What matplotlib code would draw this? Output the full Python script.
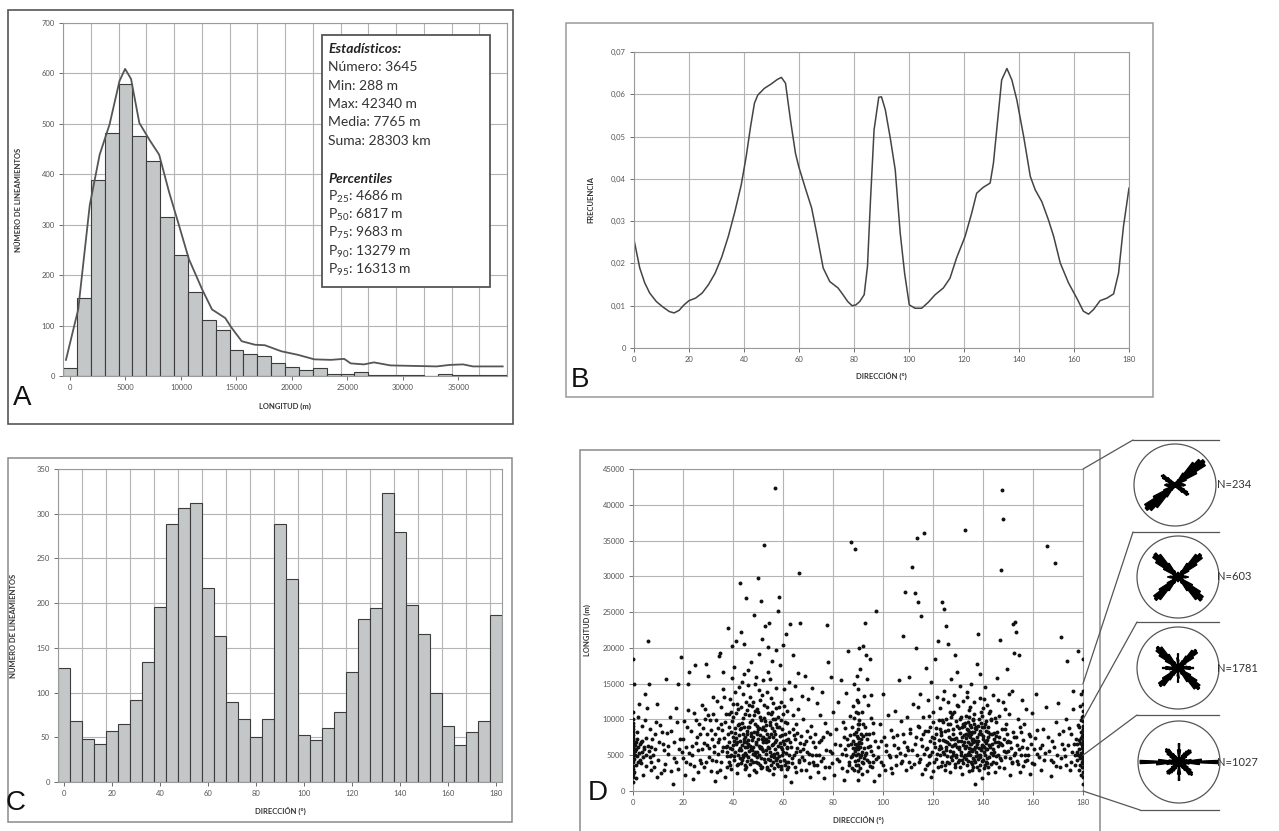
import numpy as np
import matplotlib
matplotlib.use("Agg")
import matplotlib.pyplot as plt
from matplotlib.patches import Rectangle, Ellipse, ConnectionPatch
from matplotlib.lines import Line2D
from matplotlib.ticker import FuncFormatter

plt.rcParams['font.family'] = ['Lato', 'DejaVu Sans']
plt.rcParams['mathtext.fontset'] = 'custom'
plt.rcParams['mathtext.rm'] = 'Lato'
plt.rcParams['mathtext.default'] = 'regular'

# ---- panel A: length histogram (bins of 1250 m) + smoothed curve
a_counts = [15, 155, 389, 481, 580, 475, 427, 315, 239, 167, 111, 91, 52, 43, 39, 25,
            18, 12, 16, 4, 3, 7, 2, 2, 2, 2, 0, 3, 2, 1, 1, 1]
a_bin = 1250
a_curve_x = [-357, 744, 1786, 2679, 3571, 4464, 4970, 5506, 6250, 7143, 8036, 8929, 9821,
             10714, 11905, 12798, 13988, 14583, 15476, 16667, 17560, 19048, 20536, 22024,
             23512, 24702, 25298, 26488, 27381, 28869, 30952, 33036, 34226, 35417, 36310, 38988]
a_curve_y = [32, 132, 339, 439, 499, 585, 609, 589, 502, 469, 439, 365, 299, 232, 172, 132,
             115, 95, 69, 62, 61, 49, 42, 33, 32, 34, 25, 23, 27, 21, 20, 19, 22, 23, 19, 19]
stats_lines = ["Número: 3645", "Min: 288 m", "Max: 42340 m", "Media: 7765 m", "Suma: 28303 km"]
pct_names = ["25", "50", "75", "90", "95"]
pct_values = [4686, 6817, 9683, 13279, 16313]

# ---- panel B: direction frequency curve
b_dir = [0, 1, 2.1, 3.9, 5.7, 8.1, 10.5, 12.9, 14.6, 16.4, 18.2, 20, 22.4, 24.8, 27.1, 29.5,
         31.9, 34.3, 36.7, 39, 40.8, 42.4, 43.8, 45, 47.4, 49.8, 52.1, 53.6, 55.1, 56.9, 58.7,
         59.9, 62.3, 64.6, 66.4, 68.8, 71.2, 74.2, 76, 77.7, 79.3, 80.7, 82.1, 83.7, 84.9,
         86, 87.3, 89, 90, 91.4, 93.2, 95, 96.8, 98.4, 100.1, 102.2, 104.6, 107, 109.5,
         112.5, 114.9, 117.3, 120.4, 122.8, 124.6, 127, 129.5, 130.7, 131.9, 133.7, 135.6,
         137.4, 139.2, 141.7, 144.1, 145.9, 148.3, 150.7, 152.6, 155, 158, 161, 163.4,
         165.3, 167.1, 169.5, 172, 174.4, 176.2, 178, 180]
b_freq = [0.0256, 0.0224, 0.0189, 0.0154, 0.013, 0.011, 0.0097, 0.0086, 0.0083, 0.0089,
          0.0102, 0.0112, 0.0118, 0.013, 0.015, 0.0177, 0.0215, 0.0264, 0.0323, 0.0386,
          0.0453, 0.0524, 0.0579, 0.0598, 0.0614, 0.0624, 0.0635, 0.064, 0.0626, 0.0539,
          0.0461, 0.0429, 0.0378, 0.0331, 0.0272, 0.0189, 0.0157, 0.0142, 0.0126, 0.011,
          0.01, 0.0102, 0.011, 0.0126, 0.0193, 0.035, 0.0516, 0.0593, 0.0594, 0.0563,
          0.0496, 0.0421, 0.0272, 0.0177, 0.0102, 0.0094, 0.0094, 0.0108, 0.0126, 0.0142,
          0.0165, 0.0213, 0.0264, 0.0319, 0.0366, 0.038, 0.039, 0.0437, 0.0516, 0.0634,
          0.0661, 0.0634, 0.0587, 0.05, 0.0406, 0.0374, 0.0346, 0.0303, 0.0264, 0.0201,
          0.0154, 0.0118, 0.0087, 0.008, 0.0091, 0.0112, 0.0118, 0.0128, 0.0177, 0.0288, 0.0378]

# ---- panel C: direction histogram (5 degree bins, centred 0..180)
c_counts = [127, 68, 48, 43, 57, 65, 92, 134, 196, 289, 306, 312, 217, 163, 89, 71, 50, 71,
            289, 227, 53, 47, 60, 78, 123, 182, 195, 323, 280, 198, 165, 100, 63, 41, 56, 68, 187]
c_bin = 5

# ---- panel D: direction vs length (direction deg, length km), read by eye
d_points = [
    # 0-20
    (0, 1.2), (0, 2.0), (0, 3.1), (0, 4.0), (0, 4.6), (0, 5.3), (0, 5.9), (0, 6.4), (0, 7.1),
    (0, 7.8), (0, 8.6), (0, 9.5), (0, 11.0), (0, 18.4), (0.5, 2.6), (0.7, 5.6), (1.0, 6.9),
    (1.2, 3.7), (1.4, 8.2), (1.6, 4.9), (1.8, 10.3), (2.1, 6.1), (2.3, 12.2), (0.3, 14.9),
    (1.1, 1.8), (2.8, 4.3), (3.2, 6.8), (3.5, 9.1), (3.9, 2.2), (4.2, 5.8), (4.6, 13.5),
    (5.0, 3.5), (5.3, 7.4), (5.7, 11.6), (6.1, 20.9), (6.3, 15.0), (6.6, 4.8), (7.0, 6.2),
    (7.3, 2.9), (4.8, 9.9), (6.9, 8.7), (7.8, 5.1), (8.3, 3.3), (8.9, 7.9), (9.4, 12.1),
    (10.0, 4.4), (10.6, 9.2), (11.2, 2.5), (11.8, 6.6), (12.2, 5.7), (9.7, 1.9), (12.8, 3.8),
    (13.2, 15.7), (13.6, 8.1), (14.1, 5.2), (14.7, 10.4), (15.3, 2.8), (16.0, 1.0), (16.5, 6.9),
    (17.1, 4.1), (17.6, 9.6), (18.0, 15.0), (17.9, 3.1), (18.6, 7.2), (19.2, 18.7), (19.6, 5.5),
    (0, 2.4), (0, 3.5), (0, 4.3), (0, 5.0), (0, 5.6), (0, 6.1), (0, 6.7), (0, 7.4), (0, 8.2),
    (0, 9.1), (0, 10.1), (0.4, 4.5), (0.6, 6.4), (0.9, 5.1), (1.3, 5.9), (1.5, 7.3), (1.9, 4.1),
    (2.2, 5.3), (2.6, 6.6), (3.0, 3.9), (3.4, 5.5), (3.7, 7.0), (4.0, 4.8), (4.4, 6.1),
    (5.2, 5.0), (5.9, 6.3), (6.5, 5.6), (7.1, 4.0), (7.5, 7.2), (8.6, 5.9), (9.1, 9.6),
    (10.3, 6.8), (11.5, 8.3), (12.5, 3.0), (13.9, 6.3), (15.0, 8.4), (16.2, 4.6), (17.3, 11.6),
    (18.3, 5.8),
    # 20-40
    (20.3, 9.8), (20.8, 2.3), (21.3, 6.2), (21.9, 14.9), (22.3, 16.6), (22.1, 11.3), (19.9, 4.6),
    (22.7, 3.8), (23.2, 8.4), (23.7, 5.0), (24.2, 10.9), (24.8, 17.6), (25.2, 6.7), (25.8, 2.6),
    (26.3, 9.3), (26.9, 4.4), (27.4, 12.0), (25.5, 7.6), (23.9, 1.7), (27.6, 5.9), (28.0, 8.8),
    (28.5, 3.3), (28.9, 11.4), (29.4, 6.4), (29.8, 16.1), (30.3, 4.7), (30.7, 9.9), (31.2, 2.8),
    (31.6, 7.3), (32.0, 13.1), (32.4, 5.4), (32.8, 1.4), (30.0, 10.6), (29.0, 17.7), (32.6, 8.0),
    (33.1, 4.2), (33.5, 12.6), (33.9, 6.8), (34.3, 18.9), (34.7, 3.0), (35.1, 9.4), (35.5, 5.6),
    (35.9, 14.2), (36.3, 7.4), (36.7, 1.9), (37.1, 10.7), (37.5, 4.9), (36.0, 16.6), (34.0, 8.8),
    (37.3, 6.1), (35.2, 11.8), (33.7, 2.6), (36.5, 13.2), (34.9, 19.3),
    (20.0, 7.3), (21.0, 4.0), (21.6, 8.9), (22.5, 5.3), (23.5, 6.3), (24.5, 3.5), (25.0, 9.9),
    (26.0, 5.7), (26.6, 7.9), (27.2, 3.9), (28.2, 6.7), (28.7, 10.1), (29.2, 4.1), (29.6, 7.9),
    (30.5, 6.0), (31.0, 8.5), (31.4, 4.4), (31.8, 10.8), (32.2, 6.3), (33.3, 9.9), (34.1, 5.2),
    (34.5, 7.3), (35.3, 4.0), (35.7, 8.5), (36.1, 6.2), (36.9, 9.6), (37.4, 3.4),
    # 40-50
    (37.6, 6.3), (37.9, 22.8), (38.3, 8.9), (38.6, 3.6), (38.9, 12.9), (39.2, 5.1), (39.5, 15.8),
    (39.8, 7.5), (40.1, 10.3), (40.4, 4.4), (40.7, 13.9), (41.0, 6.6), (41.3, 21.0), (41.6, 2.5),
    (41.9, 9.2), (42.2, 14.6), (42.5, 5.7), (40.2, 17.3), (39.1, 11.1), (38.4, 6.9), (40.9, 8.1),
    (41.5, 12.2), (42.0, 3.8), (39.7, 20.2), (40.5, 7.0), (38.8, 4.9), (41.2, 10.9), (42.3, 7.8),
    (42.7, 6.0), (42.9, 29.0), (43.2, 22.2), (43.4, 9.5), (43.7, 4.3), (43.9, 13.6), (44.2, 7.2),
    (44.4, 16.4), (44.7, 5.3), (44.9, 10.8), (45.1, 27.0), (45.3, 3.4), (45.6, 8.4), (45.8, 14.8),
    (46.0, 6.5), (46.3, 12.0), (46.5, 2.2), (46.8, 9.7), (47.0, 18.0), (47.3, 5.8), (43.0, 11.7),
    (44.0, 8.0), (45.0, 6.9), (46.1, 4.7), (47.2, 7.7), (43.5, 15.2), (44.6, 3.1), (45.7, 11.3),
    (46.7, 13.1), (44.3, 20.5), (45.4, 7.9), (43.8, 5.0), (46.4, 9.0), (42.8, 8.6), (47.4, 11.9),
    (44.8, 6.1), (45.9, 16.9), (43.3, 3.9),
    (37.7, 5.5), (38.0, 7.9), (38.2, 10.7), (38.5, 4.1), (38.7, 6.0), (39.0, 8.3), (39.3, 3.1),
    (39.4, 9.8), (39.6, 5.9), (39.9, 12.1), (40.0, 6.4), (40.3, 4.9), (40.6, 8.8), (40.8, 5.4),
    (41.1, 7.4), (41.4, 3.6), (41.7, 6.9), (41.8, 11.4), (42.1, 5.1), (42.4, 9.4), (42.6, 4.6),
    (42.9, 7.0), (43.1, 5.7), (43.3, 8.8), (43.6, 6.4), (43.9, 10.2), (44.1, 4.8), (44.3, 6.9),
    (44.5, 9.0), (44.7, 3.7), (44.9, 7.6), (45.1, 5.1), (45.3, 12.4), (45.5, 6.2), (45.7, 4.2),
    (45.9, 8.9), (46.1, 7.1), (46.3, 5.6), (46.5, 10.6), (46.7, 3.8), (46.9, 6.3), (47.1, 8.1),
    (47.3, 4.4), (47.5, 9.9),
    # 50-60
    (47.6, 7.1), (47.9, 12.4), (48.1, 4.0), (48.4, 24.6), (48.6, 9.3), (48.9, 5.5), (49.1, 16.0),
    (49.3, 2.7), (49.6, 8.2), (49.8, 29.7), (50.0, 11.0), (50.3, 6.3), (50.5, 14.1), (50.8, 3.6),
    (51.0, 26.5), (51.2, 9.9), (51.5, 5.9), (51.7, 13.4), (52.0, 7.6), (52.2, 34.4), (52.4, 4.5),
    (48.2, 10.6), (49.0, 6.8), (49.9, 8.7), (50.7, 12.7), (51.4, 7.3), (52.3, 10.2), (48.7, 14.9),
    (49.5, 4.8), (50.2, 19.2), (51.1, 3.2), (51.9, 9.0), (48.0, 5.2), (49.4, 11.5), (50.9, 6.0),
    (52.1, 15.5), (49.7, 7.9), (51.6, 21.2), (52.6, 8.5), (52.9, 23.1), (53.1, 5.7), (53.4, 11.8),
    (53.6, 3.3), (53.9, 16.7), (54.1, 7.0), (54.4, 23.5), (54.6, 9.6), (54.9, 4.3), (55.1, 13.0),
    (55.4, 6.4), (55.6, 18.2), (55.9, 2.4), (56.1, 10.1), (56.4, 5.2), (56.6, 42.3), (56.9, 8.0),
    (57.1, 14.4), (57.4, 3.8), (53.0, 9.2), (54.0, 6.1), (55.0, 10.7), (56.0, 7.5), (57.0, 11.6),
    (53.5, 13.8), (54.5, 2.9), (55.5, 8.8), (56.5, 4.8), (57.3, 19.7), (53.8, 20.1), (55.8, 12.3),
    (54.7, 15.6), (56.8, 6.9), (53.3, 7.3), (55.2, 4.9), (57.2, 9.4),
    (47.7, 5.7), (47.9, 7.5), (48.1, 6.1), (48.3, 3.0), (48.5, 8.2), (48.7, 5.1), (48.9, 11.2),
    (49.1, 6.6), (49.3, 4.1), (49.5, 9.1), (49.7, 5.5), (49.9, 7.3), (50.1, 3.9), (50.3, 8.8),
    (50.5, 5.0), (50.7, 10.4), (50.9, 7.8), (51.1, 6.1), (51.3, 4.6), (51.5, 8.6), (51.7, 3.4),
    (51.9, 6.8), (52.1, 5.6), (52.3, 12.0), (52.5, 7.3), (52.7, 4.0), (52.9, 9.8), (53.1, 6.9),
    (53.3, 5.2), (53.5, 8.0), (53.7, 3.1), (53.9, 10.9), (54.1, 4.5), (54.3, 7.6), (54.5, 6.0),
    (54.7, 9.2), (54.9, 5.4), (55.1, 3.6), (55.3, 7.9), (55.5, 11.1), (55.7, 5.1), (55.9, 6.6),
    (56.1, 4.0), (56.3, 8.4), (56.5, 3.2), (56.7, 5.9), (56.9, 10.0), (57.1, 4.4), (57.3, 7.1),
    (57.5, 5.3),
    # 60-80
    (57.6, 4.6), (57.9, 25.2), (58.1, 10.4), (58.3, 27.1), (58.6, 6.7), (58.8, 17.6), (59.1, 3.5),
    (59.3, 12.5), (59.6, 7.8), (59.8, 20.4), (60.1, 5.4), (60.3, 14.3), (60.6, 2.1), (60.8, 9.7),
    (61.1, 22.0), (61.4, 6.2), (61.7, 11.2), (62.0, 4.0), (62.3, 8.3), (58.5, 8.9), (59.5, 5.9),
    (60.5, 11.9), (61.5, 3.1), (62.2, 15.2), (59.0, 9.9), (61.0, 7.1), (62.6, 23.4), (62.9, 6.9),
    (63.2, 12.8), (63.5, 3.9), (63.8, 19.0), (64.1, 8.6), (64.4, 5.0), (64.7, 14.7), (65.0, 2.6),
    (65.3, 9.3), (65.6, 6.0), (65.9, 11.4), (66.2, 30.5), (66.5, 4.4), (66.8, 23.5), (67.1, 7.7),
    (67.4, 13.3), (63.0, 1.2), (64.0, 10.6), (65.8, 16.5), (66.9, 5.6), (64.9, 7.2), (67.7, 4.8),
    (68.1, 10.0), (68.5, 6.5), (68.9, 16.1), (69.3, 3.0), (69.7, 8.4), (70.1, 12.9), (70.5, 5.2),
    (70.9, 2.0), (71.3, 9.1), (71.7, 14.4), (72.1, 6.8), (72.4, 3.6), (72.8, 8.0), (73.2, 5.1),
    (73.6, 12.3), (74.0, 2.7), (74.4, 6.9), (74.8, 10.6), (75.2, 4.2), (75.6, 13.8), (76.0, 7.5),
    (76.4, 1.8), (76.8, 9.5), (77.2, 5.7),
    (57.7, 8.9), (57.9, 3.5), (58.1, 6.3), (58.3, 4.9), (58.5, 11.7), (58.7, 7.7), (58.9, 4.2),
    (59.1, 6.1), (59.3, 3.1), (59.5, 8.6), (59.7, 5.0), (59.9, 10.7), (60.1, 7.0), (60.3, 4.3),
    (60.5, 6.5), (60.7, 3.7), (60.9, 8.0), (61.1, 5.3), (61.3, 4.1), (61.5, 9.5), (61.7, 6.0),
    (61.9, 3.4), (62.1, 7.3), (62.4, 5.1), (63.1, 6.1), (63.6, 4.6), (64.2, 7.8), (64.6, 3.3),
    (65.2, 5.5), (65.7, 8.1), (66.3, 4.0), (66.7, 6.7), (67.3, 3.0), (67.9, 5.9), (68.4, 4.3),
    (69.0, 7.0), (69.5, 5.5), (70.3, 3.9), (70.7, 7.6), (71.5, 5.0), (72.0, 4.0), (72.6, 6.1),
    (73.4, 3.6), (74.2, 5.0), (75.0, 7.1), (75.8, 4.6), (76.6, 3.3), (77.4, 8.3),
    # 80-100
    (77.7, 23.2), (78.0, 18.0), (78.4, 3.4), (78.8, 7.9), (79.2, 16.0), (79.6, 5.3), (80.0, 11.0),
    (80.5, 2.3), (81.0, 8.7), (81.5, 4.5), (82.0, 12.4), (82.6, 6.4), (83.0, 15.5), (83.4, 3.2),
    (83.8, 9.6), (84.2, 1.5), (84.6, 5.8), (85.0, 13.7), (85.4, 7.3), (85.8, 19.5), (86.2, 4.1),
    (86.6, 10.5), (87.0, 34.8), (87.3, 6.6), (85.6, 2.8), (84.9, 8.8), (87.6, 4.9), (87.8, 11.9),
    (88.0, 7.0), (88.2, 2.9), (88.4, 15.0), (88.6, 5.6), (88.8, 33.8), (89.0, 8.3), (89.2, 3.7),
    (89.4, 12.7), (89.6, 6.2), (89.8, 9.4), (90.0, 1.6), (90.0, 4.3), (90.0, 5.8), (90.0, 7.4),
    (90.0, 10.9), (90.0, 14.2), (90.2, 20.0), (90.4, 6.8), (90.6, 3.2), (90.8, 17.0), (91.0, 8.0),
    (91.2, 5.1), (91.4, 11.1), (91.6, 2.4), (91.8, 20.3), (92.0, 7.7), (92.2, 4.6), (92.4, 13.3),
    (89.1, 6.0), (90.5, 9.9), (91.5, 4.0), (88.5, 10.2), (89.7, 16.1), (91.1, 6.7), (92.6, 23.5),
    (92.8, 9.0), (93.0, 5.3), (93.2, 19.0), (93.4, 2.8), (93.7, 7.2), (94.0, 12.0), (94.3, 4.1),
    (94.6, 18.5), (94.9, 6.3), (95.2, 10.2), (95.5, 3.3), (95.8, 8.1), (96.1, 5.0), (96.4, 1.4),
    (96.7, 7.0), (97.0, 25.2), (97.3, 4.5), (93.5, 15.6), (95.0, 13.4), (96.0, 9.5), (94.5, 7.9),
    (78.6, 5.6), (79.4, 3.9), (80.8, 6.6), (82.3, 4.2), (83.6, 5.2), (84.4, 7.6), (85.2, 5.0),
    (85.9, 6.4), (86.4, 3.6), (86.8, 7.8), (87.1, 4.8), (87.5, 9.0), (87.7, 3.2), (87.9, 6.0),
    (88.1, 5.2), (88.3, 8.0), (88.7, 4.2), (88.9, 6.6), (89.0, 11.0), (89.3, 5.0), (89.5, 7.7),
    (89.9, 3.6), (90.0, 2.8), (90.0, 6.5), (90.0, 8.6), (90.0, 12.5), (90.1, 5.2), (90.3, 9.4),
    (90.7, 4.7), (90.9, 6.2), (91.3, 7.2), (91.7, 5.5), (91.9, 9.3), (92.1, 3.9), (92.3, 6.0),
    (92.7, 5.0), (93.1, 7.9), (93.6, 4.4), (94.1, 6.1), (94.7, 3.5), (95.3, 5.6), (95.9, 4.0),
    # 100-120
    (97.8, 6.1), (98.3, 2.2), (98.8, 9.3), (99.3, 4.0), (99.8, 13.5), (100.3, 7.5), (100.8, 3.0),
    (101.3, 5.6), (101.8, 10.6), (102.7, 4.7), (103.2, 8.5), (103.7, 2.5), (104.2, 6.4),
    (104.7, 11.2), (105.2, 3.7), (105.7, 7.8), (106.2, 15.5), (106.7, 5.3), (107.2, 9.8),
    (107.7, 4.2), (108.1, 21.6), (108.5, 6.9), (108.9, 27.8), (109.3, 2.9), (109.7, 10.3),
    (110.1, 5.7), (110.5, 16.0), (110.9, 8.1), (111.3, 3.4), (111.7, 31.3), (112.1, 12.2),
    (112.6, 27.7), (112.9, 6.5), (113.2, 20.0), (113.5, 35.4), (113.8, 9.1), (114.1, 26.4),
    (114.4, 4.0), (114.7, 13.6), (115.0, 7.3), (115.3, 24.5), (115.6, 2.4), (115.9, 10.4),
    (116.2, 36.0), (116.5, 5.2), (116.8, 8.4), (117.1, 17.2), (117.4, 3.6), (114.0, 11.8),
    (117.7, 6.0), (118.0, 12.7), (118.3, 3.9), (118.6, 9.0), (118.9, 5.1), (119.2, 15.3),
    (119.5, 7.6), (119.8, 2.8), (120.1, 11.0), (120.4, 6.7), (120.7, 18.4), (121.0, 4.5),
    (121.3, 8.8), (121.6, 13.1), (121.9, 21.0), (122.2, 5.8), (122.4, 9.9), (119.0, 1.9),
    (120.5, 7.4), (118.5, 10.5),
    (98.0, 4.8), (99.0, 7.0), (100.0, 3.6), (101.0, 6.4), (102.2, 5.0), (103.0, 3.2), (104.0, 7.5),
    (105.0, 4.9), (106.0, 6.0), (107.0, 3.9), (108.0, 7.9), (108.7, 5.0), (109.5, 6.2),
    (110.3, 4.0), (110.7, 8.6), (111.5, 5.7), (112.3, 3.8), (113.0, 7.6), (113.6, 5.0),
    (114.2, 9.0), (114.8, 4.5), (115.5, 6.3), (116.0, 7.9), (116.6, 3.1), (117.2, 5.8),
    (117.8, 8.4), (118.4, 4.9), (118.8, 7.0), (119.4, 5.5), (119.9, 9.7), (120.2, 4.0),
    (120.8, 6.1), (121.1, 8.0), (121.5, 5.2), (121.8, 3.4), (122.3, 7.1),
    # 120-135
    (122.6, 6.3), (122.8, 11.6), (123.0, 3.5), (123.3, 8.3), (123.6, 26.4), (123.9, 5.4),
    (124.2, 14.0), (124.4, 25.5), (124.7, 7.0), (125.0, 10.1), (125.2, 23.0), (125.5, 4.1),
    (125.8, 12.4), (126.0, 20.5), (126.3, 6.6), (126.6, 9.3), (126.9, 2.6), (127.2, 15.6),
    (123.1, 7.8), (124.0, 9.6), (125.1, 5.7), (126.1, 8.5), (127.0, 4.8), (123.8, 12.9),
    (124.9, 3.0), (126.8, 11.1), (125.7, 6.9), (127.3, 7.3), (127.6, 10.8), (127.9, 5.0),
    (128.2, 13.4), (128.5, 7.2), (128.8, 3.3), (129.1, 9.8), (129.4, 16.6), (129.7, 6.1),
    (130.0, 11.9), (130.3, 4.4), (130.6, 8.1), (130.9, 14.7), (131.2, 5.5), (131.5, 2.4),
    (131.8, 9.4), (132.1, 12.6), (132.4, 6.8), (128.0, 8.6), (129.0, 4.7), (130.1, 7.0),
    (131.0, 10.3), (132.0, 3.9), (128.6, 19.0), (130.5, 5.9), (131.6, 7.6), (129.5, 12.0),
    (132.3, 9.1), (128.3, 6.4),
    (122.7, 5.0), (122.9, 8.7), (123.2, 6.0), (123.4, 4.1), (123.7, 9.9), (124.1, 7.1),
    (124.3, 5.2), (124.6, 3.6), (124.8, 8.4), (125.3, 6.1), (125.6, 4.9), (125.9, 9.4),
    (126.2, 7.6), (126.4, 3.9), (126.7, 5.6), (127.1, 10.4), (127.4, 6.3), (127.7, 4.3),
    (127.8, 8.0), (128.1, 5.4), (128.4, 11.0), (128.7, 6.6), (128.9, 3.8), (129.2, 7.4),
    (129.3, 5.1), (129.6, 9.1), (129.9, 4.1), (130.2, 8.8), (130.4, 6.2), (130.7, 3.4),
    (130.8, 10.1), (131.1, 7.0), (131.3, 5.0), (131.4, 8.9), (131.7, 4.4), (131.9, 6.4),
    (132.2, 7.8), (132.5, 4.7),
    # 135-145
    (132.6, 6.0), (132.8, 36.5), (133.0, 10.5), (133.2, 4.5), (133.4, 8.6), (133.6, 13.2),
    (133.8, 5.2), (134.0, 7.8), (134.2, 2.8), (134.4, 11.3), (134.6, 6.5), (134.8, 9.2),
    (135.0, 4.0), (135.2, 15.0), (135.4, 7.1), (135.6, 5.6), (135.8, 10.0), (136.0, 3.4),
    (136.2, 8.3), (136.4, 12.5), (136.6, 6.2), (136.8, 1.0), (137.0, 9.0), (137.2, 4.9),
    (137.4, 17.8), (133.1, 7.4), (133.9, 9.7), (134.5, 5.5), (135.3, 8.0), (135.9, 6.9),
    (136.5, 4.3), (137.3, 7.0), (133.5, 3.6), (134.9, 11.8), (136.1, 9.9), (135.1, 5.9),
    (134.1, 6.8), (136.9, 8.8), (133.7, 13.9), (135.7, 3.0), (137.1, 6.1), (134.3, 8.2),
    (136.3, 10.7), (132.9, 5.0), (137.6, 7.6), (137.8, 22.0), (138.0, 5.0), (138.2, 10.1),
    (138.4, 3.0), (138.6, 8.4), (138.8, 13.0), (139.0, 6.0), (139.2, 9.5), (139.4, 4.2),
    (139.6, 1.8), (139.8, 7.2), (140.0, 11.6), (140.2, 5.4), (140.4, 8.9), (140.6, 3.6),
    (140.8, 14.5), (141.0, 6.7), (141.2, 9.8), (141.4, 4.6), (141.6, 12.0), (141.8, 7.5),
    (142.0, 2.5), (142.2, 10.9), (138.1, 7.0), (139.1, 11.0), (140.1, 6.3), (141.1, 5.8),
    (142.1, 8.2), (138.7, 4.7), (139.7, 9.0), (140.7, 7.0), (141.7, 3.9), (138.9, 16.4),
    (140.3, 12.8),
    (132.7, 9.5), (133.0, 6.3), (133.3, 7.9), (133.6, 5.0), (133.8, 8.5), (134.0, 4.2),
    (134.2, 10.4), (134.4, 6.0), (134.6, 7.5), (134.8, 5.1), (135.0, 9.0), (135.2, 6.6),
    (135.4, 3.8), (135.6, 8.2), (135.8, 4.6), (136.0, 7.3), (136.2, 5.8), (136.4, 9.3),
    (136.6, 4.0), (136.8, 7.0), (137.0, 5.4), (137.2, 8.6), (137.4, 3.3), (137.6, 6.5),
    (137.8, 4.5), (138.0, 9.1), (138.2, 6.0), (138.4, 7.9), (138.6, 5.1), (138.8, 3.7),
    (139.0, 8.0), (139.2, 5.7), (139.4, 10.5), (139.6, 6.4), (139.8, 4.4), (140.0, 7.7),
    (140.2, 3.2), (140.4, 6.1), (140.6, 9.4), (140.8, 5.0), (141.0, 8.4), (141.2, 4.1),
    (141.4, 7.1), (141.6, 5.8), (141.8, 3.3), (142.0, 9.0), (142.2, 6.4), (142.4, 4.8),
    # 145-165
    (142.6, 6.2), (142.9, 11.2), (143.2, 3.8), (143.5, 8.0), (143.8, 5.1), (144.1, 13.4),
    (144.4, 7.3), (144.7, 2.6), (145.0, 9.6), (145.3, 4.9), (145.6, 15.8), (145.9, 6.9),
    (146.2, 10.5), (146.5, 3.4), (146.8, 21.1), (147.1, 30.9), (147.4, 8.6), (147.7, 42.0),
    (148.0, 38.0), (148.3, 5.6), (143.0, 9.9), (144.0, 5.9), (145.1, 7.7), (146.0, 12.7),
    (147.0, 4.3), (144.6, 10.2), (146.6, 6.7), (147.6, 6.4), (148.0, 12.5), (148.4, 3.2),
    (148.8, 8.7), (149.2, 5.4), (149.6, 17.0), (150.0, 7.0), (150.4, 10.8), (150.8, 2.2),
    (151.2, 6.0), (151.6, 14.0), (152.0, 23.3), (152.3, 19.3), (150.6, 4.6), (149.0, 9.4),
    (151.8, 8.2), (148.6, 11.4), (152.4, 5.0), (150.2, 13.5), (151.4, 3.9), (149.4, 6.8),
    (152.7, 23.6), (153.0, 22.2), (153.3, 7.6), (153.6, 4.2), (153.9, 10.0), (154.2, 19.0),
    (154.5, 5.8), (154.8, 2.7), (155.1, 8.3), (155.4, 12.7), (155.7, 6.2), (156.0, 3.5),
    (156.4, 9.4), (156.8, 5.0), (157.2, 11.4), (157.7, 4.4), (158.2, 8.0), (158.7, 2.4),
    (159.2, 6.6), (159.7, 10.9), (160.2, 3.8), (160.7, 7.4), (161.2, 13.6), (161.7, 5.2),
    (162.7, 6.0), (163.3, 3.0), (163.9, 8.7), (164.5, 4.4), (165.1, 11.8), (165.7, 34.2),
    (166.3, 5.6), (167.0, 2.1),
    (142.7, 7.9), (143.0, 5.3), (143.3, 10.0), (143.6, 6.6), (143.9, 4.0), (144.2, 8.1),
    (144.5, 5.4), (144.8, 6.9), (145.2, 3.9), (145.5, 8.3), (145.8, 5.1), (146.1, 6.3),
    (146.4, 7.5), (146.9, 4.6), (147.3, 6.6), (148.2, 7.3), (148.9, 4.7), (149.5, 8.0),
    (150.1, 5.6), (150.9, 6.9), (151.5, 4.1), (152.2, 7.6), (152.9, 5.3), (153.5, 6.4),
    (154.0, 3.8), (154.6, 8.9), (155.3, 5.0), (155.9, 7.1), (156.6, 4.2), (157.4, 6.0),
    (158.0, 5.1), (158.9, 7.7), (159.5, 3.9), (160.5, 5.8), (161.5, 8.5), (162.4, 4.7),
    (163.6, 6.4), (164.8, 5.3), (166.0, 7.6),
    # 165-180
    (167.6, 7.0), (168.1, 4.0), (168.6, 31.8), (169.1, 9.6), (169.6, 5.1), (170.1, 12.3),
    (170.6, 3.3), (171.1, 21.5), (171.6, 6.6), (172.1, 8.4), (172.6, 4.9), (173.1, 10.1),
    (173.6, 18.1), (174.1, 6.4), (174.6, 2.9), (175.1, 8.0), (175.6, 5.5), (176.1, 11.5),
    (176.6, 3.7), (177.1, 7.3), (175.9, 14.0), (177.6, 5.4), (177.8, 9.2), (178.0, 19.6),
    (178.2, 3.0), (178.4, 7.1), (178.6, 11.9), (178.8, 4.6), (179.0, 8.3), (179.2, 2.2),
    (179.4, 6.0), (179.6, 10.4), (179.8, 5.0), (180, 1.0), (180, 2.7), (180, 3.9), (180, 4.8),
    (180, 5.5), (180, 6.3), (180, 7.0), (180, 8.0), (180, 9.1), (180, 10.5), (180, 12.2),
    (180, 18.4), (179.5, 4.1), (178.9, 6.7), (179.1, 13.5), (179.7, 7.7), (178.3, 5.9),
    (167.3, 4.4), (168.3, 6.1), (169.3, 3.5), (170.3, 7.9), (171.3, 4.6), (172.3, 5.8),
    (173.3, 3.7), (174.3, 8.8), (175.3, 4.1), (176.3, 6.6), (176.9, 5.0), (177.4, 4.4),
    (177.7, 6.6), (178.1, 5.0), (178.5, 8.9), (178.7, 3.6), (179.1, 5.3), (179.3, 7.4),
    (179.5, 6.4), (179.7, 3.3), (179.9, 8.7), (180, 2.0), (180, 3.4), (180, 4.3), (180, 5.1),
    (180, 5.9), (180, 6.7), (180, 7.5), (180, 8.5), (180, 9.8), (180, 11.2), (180, 14.0),
    (179.8, 4.7), (179.0, 9.9), (178.6, 4.9),
]

# ---- rose diagrams per length class (relative petal length, 5 deg bins 0..175)
rose_n = [234, 603, 1781, 1027]
rose_bounds = [45000, 15000, 10000, 5000, 0]
rose_vals = [
    [0.06, 0.05, 0.05, 0.06, 0.08, 0.10, 0.15, 0.35, 0.70, 0.85, 0.92, 0.88,
     0.60, 0.30, 0.12, 0.12, 0.18, 0.22, 0.25, 0.22, 0.15, 0.12, 0.15, 0.25,
     0.35, 0.40, 0.38, 0.25, 0.15, 0.10, 0.07, 0.06, 0.05, 0.05, 0.05, 0.06],
    [0.12, 0.06, 0.05, 0.06, 0.08, 0.10, 0.18, 0.40, 0.70, 0.78, 0.75, 0.55,
     0.30, 0.12, 0.08, 0.10, 0.15, 0.20, 0.25, 0.20, 0.12, 0.08, 0.08, 0.15,
     0.40, 0.65, 0.78, 0.80, 0.70, 0.40, 0.18, 0.08, 0.06, 0.05, 0.06, 0.10],
    [0.35, 0.20, 0.07, 0.07, 0.08, 0.12, 0.20, 0.35, 0.55, 0.62, 0.60, 0.45,
     0.22, 0.12, 0.10, 0.15, 0.22, 0.30, 0.38, 0.30, 0.15, 0.10, 0.10, 0.18,
     0.35, 0.55, 0.68, 0.72, 0.65, 0.40, 0.18, 0.10, 0.07, 0.07, 0.10, 0.25],
    [0.45, 0.30, 0.10, 0.10, 0.12, 0.18, 0.25, 0.32, 0.38, 0.40, 0.38, 0.22,
     0.15, 0.12, 0.15, 0.20, 0.30, 0.55, 0.95, 0.50, 0.25, 0.18, 0.15, 0.18,
     0.25, 0.35, 0.42, 0.45, 0.40, 0.25, 0.18, 0.12, 0.10, 0.10, 0.12, 0.30],
]

W, H = 1279, 831
fig = plt.figure(figsize=(W / 100, H / 100), dpi=100)


def px_rect(x0, y0, x1, y1):
    return [x0 / W, 1 - y1 / H, (x1 - x0) / W, (y1 - y0) / H]


def fx(x):
    return x / W


def fy(y):
    return 1 - y / H


GRID = '#b4b4b4'
TICK = '#555555'


def style(ax):
    for s in ax.spines.values():
        s.set_color('#9a9a9a')
        s.set_linewidth(0.8)
    ax.tick_params(labelsize=5.5, colors=TICK, length=3, width=0.6, pad=3)
    ax.tick_params(which='minor', length=0)
    ax.set_axisbelow(True)


def frame(x0, y0, x1, y1, color='#8a8a8a', lw=1.1):
    fig.add_artist(Rectangle((fx(x0), fy(y1)), (x1 - x0) / W, (y1 - y0) / H,
                             transform=fig.transFigure, fill=False, ec=color, lw=lw))


def ax_title(ax, xlabel, ylabel, ypad=14, xpad=8):
    ax.set_xlabel(xlabel, fontsize=5.5, fontweight='bold', color='#333', labelpad=xpad)
    ax.set_ylabel(ylabel, fontsize=5.5, fontweight='bold', color='#333', labelpad=ypad)


# panel frames
frame(8, 10, 513, 424, color='#555555', lw=1.2)
frame(566, 23, 1153, 397, color='#9a9a9a')
frame(8, 458, 512, 822, color='#8a8a8a')
frame(580, 450, 1100, 845, color='#8a8a8a')

# ---------------- A
axA = fig.add_axes(px_rect(63, 23, 507, 376))
style(axA)
a_centers = np.arange(len(a_counts)) * a_bin
axA.bar(a_centers, a_counts, width=a_bin, color='#c4c7c7', edgecolor='#3c3c3c', lw=0.8, zorder=2)
axA.plot(a_curve_x, a_curve_y, color='#555555', lw=1.3, zorder=3)
axA.set_xlim(-a_bin / 2, (len(a_counts) - 0.5) * a_bin)
axA.set_ylim(0, 700)
axA.set_yticks(range(0, 701, 100))
axA.set_xticks(range(0, 35001, 5000))
axA.set_xticks(np.arange(-a_bin / 2, len(a_counts) * a_bin, 2 * a_bin), minor=True)
axA.grid(which='major', axis='y', color=GRID, lw=0.8)
axA.grid(which='minor', axis='x', color=GRID, lw=0.8)
ax_title(axA, 'LONGITUD (m)', 'NÚMERO DE LINEAMIENTOS')

# stats box
fig.add_artist(Rectangle((fx(322), fy(287)), 168 / W, 252 / H, transform=fig.transFigure,
                         fc='white', ec='#555555', lw=1.3))
tx = fx(328)
fig.text(tx, fy(49), 'Estadísticos:', fontsize=10, fontweight='bold', style='italic',
         color='#222', va='center')
for i, line in enumerate(stats_lines):
    fig.text(tx, fy(67 + i * 18.5), line, fontsize=10, color='#333', va='center')
fig.text(tx, fy(179), 'Percentiles', fontsize=10, fontweight='bold', style='italic',
         color='#222', va='center')
for i, (nm, v) in enumerate(zip(pct_names, pct_values)):
    fig.text(tx, fy(197 + i * 18.2), 'P$_{%s}$: %d m' % (nm, v), fontsize=10, color='#333',
             va='center')

# ---------------- B
axB = fig.add_axes(px_rect(634, 52, 1129, 348))
style(axB)
axB.plot(b_dir, b_freq, color='#444444', lw=1.1)
axB.set_xlim(0, 180)
axB.set_ylim(0, 0.07)
axB.set_xticks(range(0, 181, 20))
axB.set_yticks(np.arange(0, 0.0701, 0.01))
axB.yaxis.set_major_formatter(FuncFormatter(lambda v, p: '0' if abs(v) < 1e-9 else ('%.2f' % v).replace('.', ',')))
axB.grid(True, color=GRID, lw=0.8)
ax_title(axB, 'DIRECCIÓN (°)', 'FRECUENCIA', ypad=12, xpad=6)

# ---------------- C
axC = fig.add_axes(px_rect(58, 469, 502, 782))
style(axC)
c_centers = np.arange(len(c_counts)) * c_bin
axC.bar(c_centers, c_counts, width=c_bin, color='#c4c7c7', edgecolor='#3c3c3c', lw=0.8, zorder=2)
axC.set_xlim(-c_bin / 2, (len(c_counts) - 0.5) * c_bin)
axC.set_ylim(0, 350)
axC.set_yticks(range(0, 351, 50))
axC.set_xticks(range(0, 181, 20))
axC.set_xticks(np.arange(-c_bin / 2, len(c_counts) * c_bin, 2 * c_bin), minor=True)
axC.grid(which='major', axis='y', color=GRID, lw=0.8)
axC.grid(which='minor', axis='x', color=GRID, lw=0.8)
ax_title(axC, 'DIRECCIÓN (°)', 'NÚMERO DE LINEAMIENTOS', ypad=14, xpad=7)

# ---------------- D
axD = fig.add_axes(px_rect(633, 469, 1083, 791))
style(axD)
d_dir = [p[0] for p in d_points]
d_len = [p[1] * 1000 for p in d_points]
axD.scatter(d_dir, d_len, s=8, color='#111111', linewidths=0, zorder=3)
axD.set_xlim(0, 180)
axD.set_ylim(0, 45000)
axD.set_xticks(range(0, 181, 20))
axD.set_yticks(range(0, 45001, 5000))
axD.grid(True, color=GRID, lw=0.8)
ax_title(axD, 'DIRECCIÓN (°)', 'LONGITUD (m)', ypad=8, xpad=7)

# rose diagrams and connectors
rose_cy = [485, 577, 668, 762]
rose_cx = [1175, 1178, 1178, 1179]
rose_r = 41
hline_y = [440, 532, 622, 715, 810]
hline_x0 = [1133, 1133, 1137, 1137, 1140]
for i, b in enumerate(rose_bounds):
    con = ConnectionPatch(xyA=(180, b), coordsA=axD.transData,
                          xyB=(fx(hline_x0[i]), fy(hline_y[i])), coordsB=fig.transFigure,
                          color='#555555', lw=0.9)
    fig.add_artist(con)
    fig.add_artist(Line2D([fx(hline_x0[i]), fx(1219)], [fy(hline_y[i])] * 2,
                          transform=fig.transFigure, color='#555555', lw=0.9))

theta = np.radians(np.arange(0, 360, 5))
for i in range(4):
    cx, cy = rose_cx[i], rose_cy[i]
    axR = fig.add_axes(px_rect(cx - rose_r, cy - rose_r, cx + rose_r, cy + rose_r),
                       projection='polar')
    axR.set_theta_zero_location('N')
    axR.set_theta_direction(-1)
    vals = rose_vals[i] + rose_vals[i]
    axR.bar(theta, vals, width=np.radians(5), color='black', edgecolor='black', lw=0.8)
    axR.set_ylim(0, 1)
    axR.axis('off')
    fig.add_artist(Ellipse((fx(cx), fy(cy)), 2 * rose_r / W, 2 * rose_r / H,
                           transform=fig.transFigure, fill=False, ec='#555555', lw=0.9))
    fig.text(fx(1217), fy(cy), 'N=%d' % rose_n[i], fontsize=8, color='#333', va='center')

# panel letters
for lab, (x, y) in zip('ABCD', [(22, 398), (580, 380), (16, 803), (598, 793)]):
    fig.text(fx(x), fy(y), lab, fontsize=20, family='Liberation Sans', ha='center',
             va='center', color='#111')

fig.savefig('out.png', dpi=100)
